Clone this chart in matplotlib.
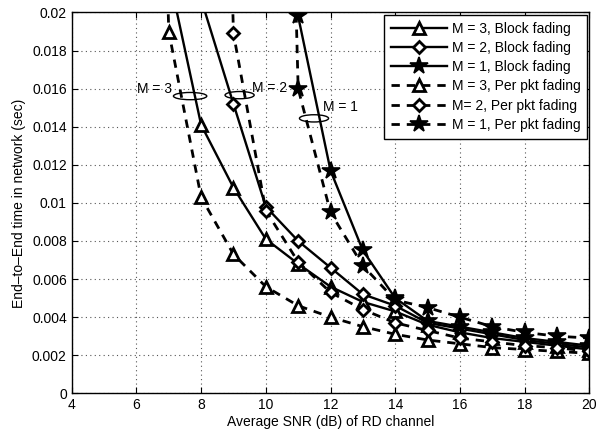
import matplotlib
matplotlib.use("Agg")
import matplotlib.pyplot as plt
from matplotlib.patches import Ellipse

plt.rcParams['font.family'] = ['Liberation Sans', 'DejaVu Sans']

# Block fading
x_m3_block = [7, 8, 9, 10, 11, 12, 13, 14, 15, 16, 17, 18, 19, 20]
y_m3_block = [0.022, 0.0141, 0.0108, 0.0081, 0.0068, 0.0056, 0.0048, 0.0043, 0.0036, 0.0032, 0.0029, 0.0027, 0.0025, 0.0023]
x_m2_block = [8, 9, 10, 11, 12, 13, 14, 15, 16, 17, 18, 19, 20]
y_m2_block = [0.0207, 0.0152, 0.0098, 0.0080, 0.0066, 0.0052, 0.0046, 0.0037, 0.0034, 0.0031, 0.0028, 0.0026, 0.0024]
x_m1_block = [10, 11, 12, 13, 14, 15, 16, 17, 18, 19, 20]
y_m1_block = [0.040, 0.0198, 0.0117, 0.0075, 0.0050, 0.0038, 0.0035, 0.0032, 0.0029, 0.0027, 0.0025]
# Per packet fading
x_m3_pkt = [6, 7, 8, 9, 10, 11, 12, 13, 14, 15, 16, 17, 18, 19, 20]
y_m3_pkt = [0.08, 0.0190, 0.0103, 0.0073, 0.0056, 0.0046, 0.0040, 0.0035, 0.0031, 0.0028, 0.0026, 0.0024, 0.0023, 0.0022, 0.0021]
x_m2_pkt = [8, 9, 10, 11, 12, 13, 14, 15, 16, 17, 18, 19, 20]
y_m2_pkt = [0.08, 0.0189, 0.0096, 0.0069, 0.0053, 0.0044, 0.0037, 0.0033, 0.0029, 0.0027, 0.0025, 0.0024, 0.0022]
x_m1_pkt = [10, 11, 12, 13, 14, 15, 16, 17, 18, 19, 20]
y_m1_pkt = [0.08, 0.0160, 0.0095, 0.0067, 0.0049, 0.0045, 0.0040, 0.0035, 0.0032, 0.0030, 0.0029]

labels = ["M = 3, Block fading", "M = 2, Block fading", "M = 1, Block fading",
          "M = 3, Per pkt fading", "M= 2, Per pkt fading", "M = 1, Per pkt fading"]

fig = plt.figure(figsize=(5.98, 4.37), dpi=100)
ax = fig.add_axes([0.1199, 0.1, 0.8656, 0.8714])

common = dict(color='black', markeredgecolor='black', clip_on=True)
ax.plot(x_m3_block, y_m3_block, '-', marker='^', ms=9, mfc='white', mew=2, lw=1.7, label=labels[0], **common)
ax.plot(x_m2_block, y_m2_block, '-', marker='D', ms=6.5, mfc='white', mew=2, lw=1.7, label=labels[1], **common)
ax.plot(x_m1_block, y_m1_block, '-', marker='*', ms=13, mfc='black', mew=1.2, lw=1.7, label=labels[2], **common)
ax.plot(x_m3_pkt, y_m3_pkt, '--', marker='^', ms=9, mfc='white', mew=2, lw=2, dashes=(3, 2.5), label=labels[3], **common)
ax.plot(x_m2_pkt, y_m2_pkt, '--', marker='D', ms=6.5, mfc='white', mew=2, lw=2, dashes=(3, 2.5), label=labels[4], **common)
ax.plot(x_m1_pkt, y_m1_pkt, '--', marker='*', ms=13, mfc='black', mew=1.2, lw=2, dashes=(3, 2.5), label=labels[5], **common)

ax.set_xlim(4, 20)
ax.set_ylim(0, 0.02)
ax.set_xticks([4, 6, 8, 10, 12, 14, 16, 18, 20])
yt = [0, 0.002, 0.004, 0.006, 0.008, 0.01, 0.012, 0.014, 0.016, 0.018, 0.02]
ax.set_yticks(yt)
ax.set_yticklabels(["0", "0.002", "0.004", "0.006", "0.008", "0.01", "0.012", "0.014", "0.016", "0.018", "0.02"])
ax.tick_params(direction='in', top=True, right=True, labelsize=10, length=4)
ax.grid(True, linestyle=(0, (1, 3)), color='#555555', linewidth=0.8)
for s in ax.spines.values():
    s.set_linewidth(1.0)

ax.set_xlabel("Average SNR (dB) of RD channel", fontsize=10, labelpad=2)
ax.set_ylabel("End–to–End time in network (sec)", fontsize=10, labelpad=4)

# annotations
for (cx, cy, w) in [(7.66, 0.01561, 1.03), (9.19, 0.01566, 0.9), (11.49, 0.01444, 0.9)]:
    ax.add_patch(Ellipse((cx, cy), w, 0.00038, fill=False, edgecolor='black', lw=1.0, zorder=5))
ax.text(6.01, 0.01600, "M = 3", fontsize=10, va='center', ha='left')
ax.text(9.56, 0.01603, "M = 2", fontsize=10, va='center', ha='left')
ax.text(11.76, 0.01505, "M = 1", fontsize=10, va='center', ha='left')

leg = ax.legend(loc='upper right', fontsize=10, frameon=True, fancybox=False,
                edgecolor='black', framealpha=1, borderaxespad=0.15,
                handlelength=4.0, handletextpad=0.35, labelspacing=0.38, borderpad=0.5)
leg.get_frame().set_linewidth(1.0)

fig.savefig("out.png", dpi=100)
